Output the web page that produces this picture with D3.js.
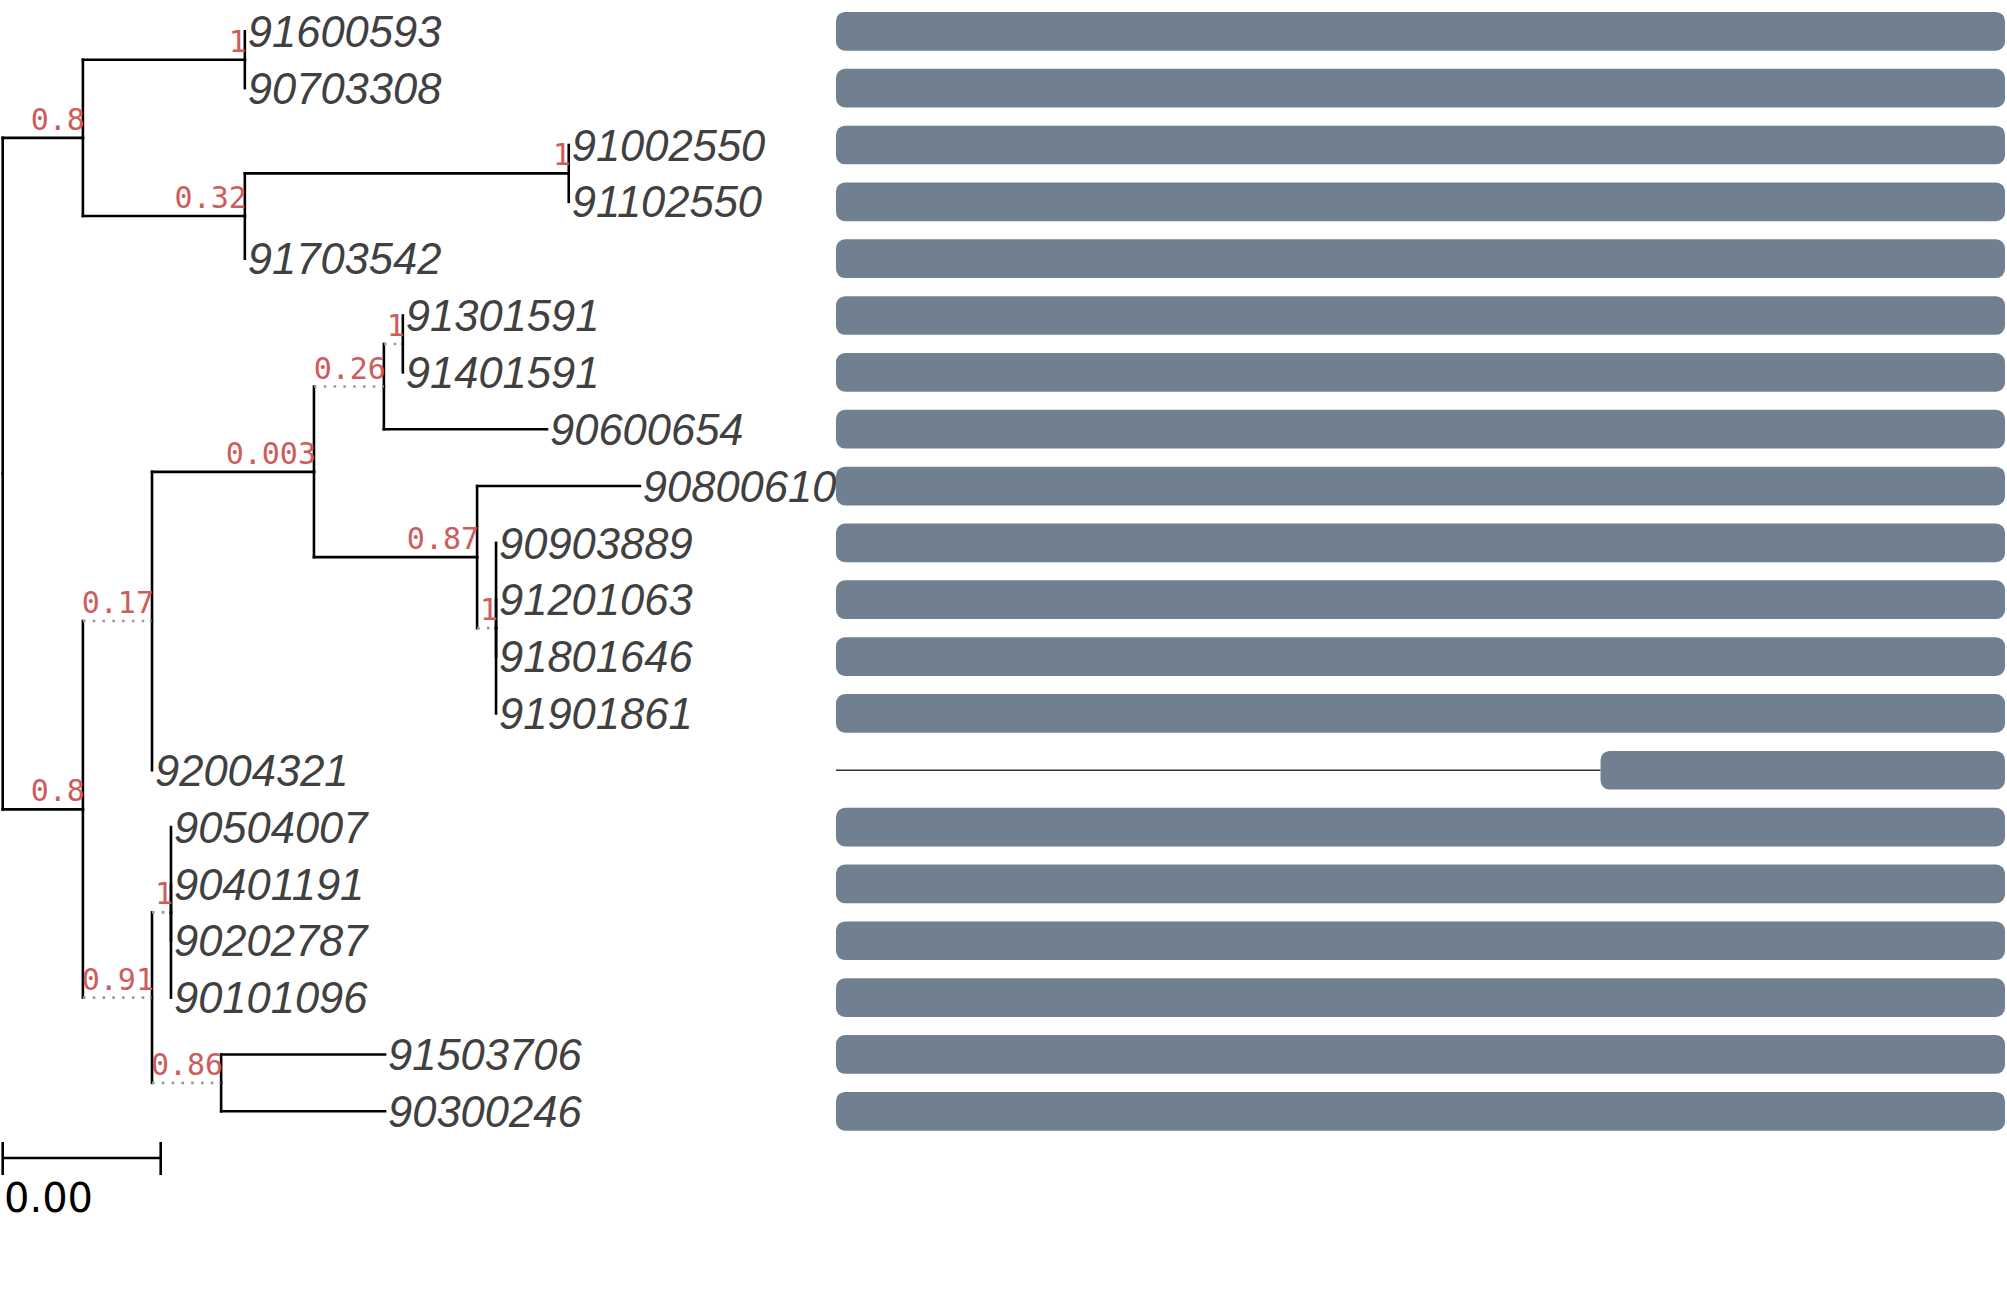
<!doctype html>
<html>
<head>
  <meta charset="utf-8" />
  <title>tree + coverage</title>
  <script src="https://cdn.jsdelivr.net/npm/d3@7"></script>
  <style>
  html,body{margin:0;padding:0;background:#fff;}
  svg{display:block;}
  </style>
</head>
<body>
<div id="chart"></div>
<script type="text/javascript">
// tip order, top to bottom
var tipLabels = ["91600593","90703308","91002550","91102550","91703542",
                 "91301591","91401591","90600654","90800610","90903889",
                 "91201063","91801646","91901861","92004321","90504007",
                 "90401191","90202787","90101096","91503706","90300246"];

// tree edges: node, parent, branch length, support, dotted branch
var nodeIds  = ["root","n1","n2","91600593","90703308","n3","n4","91002550","91102550","91703542",
                "n5","n6","n7","n8","n9","91301591","91401591","90600654","n10","90800610",
                "n11","90903889","91201063","91801646","91901861","92004321","n12","n13",
                "90504007","90401191","90202787","90101096","n14","91503706","90300246"];
var parentIds = ["","root","n1","n2","n2","n1","n3","n4","n4","n3",
                 "root","n5","n6","n7","n8","n9","n9","n8","n7","n10",
                 "n10","n11","n11","n11","n11","n6","n5","n12",
                 "n13","n13","n13","n13","n12","n14","n14"];
var branchLen = [0,0.00203,0.0041,0,0,0.0041,0.0082,0,0,0,
                 0.00203,0.00175,0.0041,0.00177,0.00048,0,0,0.00413,0.00413,0.00412,
                 0.00048,0,0,0,0,0,0.00175,0.00048,
                 0,0,0,0,0.00175,0.00415,0.00415];
var support  = ["","0.8","1","","","0.32","1","","","",
                "0.8","0.17","0.003","0.26","1","","","","0.87","",
                "1","","","","","","0.91","1",
                "","","","","0.86","",""];
var dotted   = [0,0,0,0,0,0,0,0,0,0,
                0,1,0,1,1,0,0,0,0,0,
                1,0,0,0,0,0,1,1,
                0,0,0,0,1,0,0];

// coverage bars per tip (alignment positions 0..1000)
var barStart = [0,0,0,0,0,0,0,0,0,0,0,0,0,654,0,0,0,0,0,0];
var barEnd   = [1000,1000,1000,1000,1000,1000,1000,1000,1000,1000,
                1000,1000,1000,1000,1000,1000,1000,1000,1000,1000];

var scaleWidth = 0.004;

var W = 2007, H = 1300;
var svg = d3.select("#chart").append("svg").attr("width", W).attr("height", H);

var y = d3.scaleLinear().domain([0, tipLabels.length - 1]).range([31.3, 1111.3]);
var x = d3.scaleLinear().domain([0, 0.01]).range([2.7, 397.7]);
var xb = d3.scaleLinear().domain([0, 1000]).range([836, 2005]);

var rows = nodeIds.map(function(id, i){
  return {id: id, parent: parentIds[i], len: branchLen[i], support: support[i], dotted: dotted[i]};
});
var root = d3.stratify().id(function(d){return d.id;}).parentId(function(d){return d.parent || null;})(rows);

// depth by summing branch lengths, y from tip order / mean of children
root.eachBefore(function(n){ n.dist = n.parent ? n.parent.dist + n.data.len : 0; });
root.eachAfter(function(n){
  if (!n.children) n.row = tipLabels.indexOf(n.id);
  else n.row = d3.mean(n.children, function(c){ return c.row; });
  n.px = x(n.dist);
  n.py = y(n.row);
});

var tree = svg.append("g");
var links = root.descendants().filter(function(n){ return n.parent; });

// vertical parts
tree.selectAll("line.v").data(links).enter().append("line")
  .attr("x1", function(d){return d.parent.px;}).attr("x2", function(d){return d.parent.px;})
  .attr("y1", function(d){return d.parent.py;}).attr("y2", function(d){return d.py;})
  .attr("stroke", "#000").attr("stroke-width", 2.6).attr("stroke-linecap", "square");

// horizontal parts
tree.selectAll("line.h").data(links.filter(function(d){return d.data.len > 0;})).enter().append("line")
  .attr("x1", function(d){return d.parent.px;}).attr("x2", function(d){return d.px;})
  .attr("y1", function(d){return d.py;}).attr("y2", function(d){return d.py;})
  .attr("stroke", function(d){return d.data.dotted ? "#999" : "#000";})
  .attr("stroke-width", 2.6)
  .attr("stroke-dasharray", function(d){return d.data.dotted ? "2.6 7.2" : null;})
  .attr("stroke-linecap", function(d){return d.data.dotted ? "butt" : "square";});

// tip labels
tree.selectAll("text.tip").data(root.leaves()).enter().append("text")
  .attr("x", function(d){return d.px + 3;})
  .attr("y", function(d){return d.py;})
  .attr("dy", "0.36em")
  .attr("font-family", "'Liberation Sans', Arial, sans-serif")
  .attr("font-style", "italic")
  .attr("font-size", 43.5)
  .attr("fill", "#404040")
  .text(function(d){return d.id;});

// support values
tree.selectAll("text.sup").data(root.descendants().filter(function(d){return d.data.support;})).enter().append("text")
  .attr("x", function(d){return d.px + 2;})
  .attr("y", function(d){return d.py - 8;})
  .attr("text-anchor", "end")
  .attr("font-family", "'DejaVu Sans Mono', monospace")
  .attr("font-size", 30)
  .attr("fill", "#CD5C5C")
  .text(function(d){return d.data.support;});

// tree scale
var sb = svg.append("g");
var sx0 = x(0), sx1 = x(scaleWidth), sy = 1158;
sb.append("line").attr("x1", sx0).attr("x2", sx1).attr("y1", sy).attr("y2", sy)
  .attr("stroke", "#000").attr("stroke-width", 2.6);
[sx0, sx1].forEach(function(p){
  sb.append("line").attr("x1", p).attr("x2", p).attr("y1", sy - 16).attr("y2", sy + 17)
    .attr("stroke", "#000").attr("stroke-width", 2.6);
});
sb.append("text").attr("x", 4).attr("y", 1212)
  .attr("font-family", "'DejaVu Sans', sans-serif").attr("font-size", 40).attr("fill", "#000")
  .text(d3.format(".2f")(scaleWidth));

// coverage bars
var bars = svg.append("g");
var bh = 38.7;
bars.selectAll("line.gap").data(tipLabels.map(function(t, i){return i;}).filter(function(i){return barStart[i] > 0;}))
  .enter().append("line")
  .attr("x1", xb(0)).attr("x2", function(i){return xb(barStart[i]);})
  .attr("y1", function(i){return y(i);}).attr("y2", function(i){return y(i);})
  .attr("stroke", "#333").attr("stroke-width", 1.4);
bars.selectAll("rect").data(tipLabels).enter().append("rect")
  .attr("x", function(d, i){return xb(barStart[i]);})
  .attr("width", function(d, i){return xb(barEnd[i]) - xb(barStart[i]);})
  .attr("y", function(d, i){return y(i) - bh / 2;})
  .attr("height", bh)
  .attr("rx", 9).attr("ry", 9)
  .attr("fill", "#708090");
</script>
</body>
</html>
